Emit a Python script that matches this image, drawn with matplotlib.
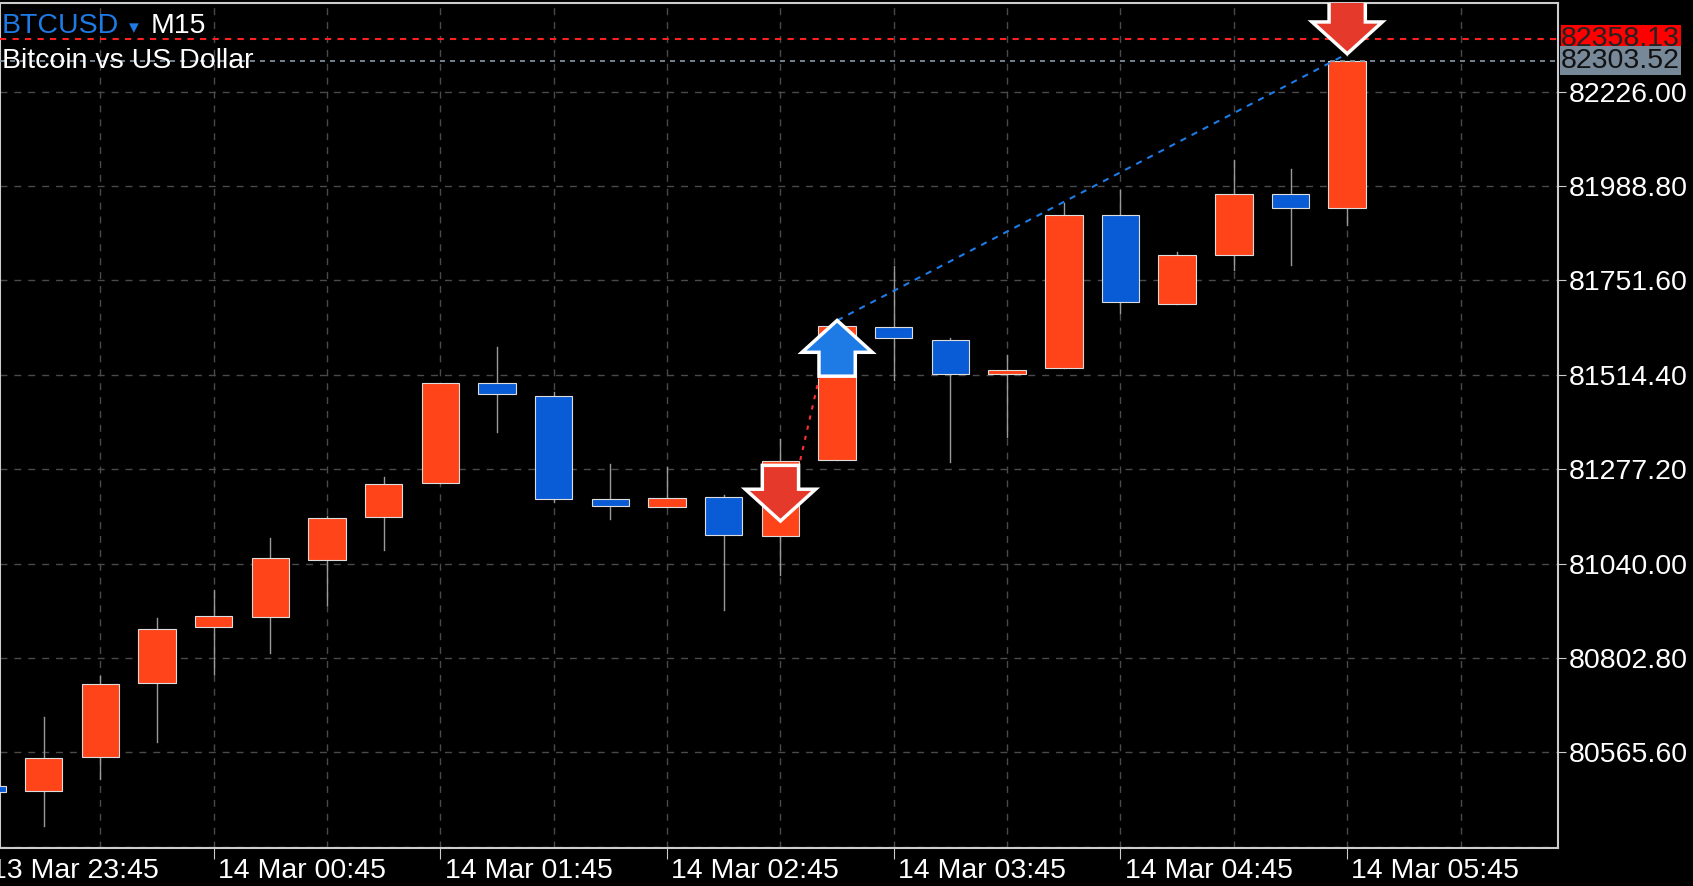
import matplotlib
matplotlib.use("Agg")
import matplotlib.pyplot as plt
from matplotlib.patches import Polygon, Rectangle

opens  = [80482, 80469.3, 80553.3, 80740.4, 80881.3, 80905.7, 81049.4, 81157.9, 81241.9, 81494, 81461.5, 81201.2, 81182.3, 81206.7, 81109.1, 81301.5, 81635, 81602.5, 81515.7, 81532, 81916.9, 81691.9, 81816.6, 81968.5, 81933.2]
highs  = [80490, 80653.6, 80756.6, 80903, 80973.5, 81103.6, 81160.6, 81258.2, 81494, 81583.5, 81472.3, 81290.7, 81282.6, 81212.1, 81353, 81643.1, 81786.8, 81607.9, 81564.5, 81946.8, 81979.3, 81822.1, 82055.2, 82030.8, 82303.52]
lows   = [80455, 80379.8, 80499.1, 80591.3, 80762.1, 80816.3, 80935.6, 81073.8, 81241.9, 81372, 81195.8, 81152.4, 81182.3, 80924.7, 81011.5, 81301.5, 81502.2, 81296.1, 81358.5, 81532, 81670.2, 81691.9, 81778.7, 81789.5, 81889.8]
closes = [80467, 80550.6, 80737.7, 80875.9, 80908.5, 81054.8, 81155.2, 81239.2, 81494, 81466.9, 81201.2, 81185, 81204, 81111.8, 81298.8, 81637.7, 81607.9, 81515.7, 81526.6, 81916.9, 81697.4, 81816.6, 81968.5, 81933.2, 82303.52]
time_labels = ["13 Mar 23:45", "14 Mar 00:45", "14 Mar 01:45", "14 Mar 02:45", "14 Mar 03:45", "14 Mar 04:45", "14 Mar 05:45"]
label_idx = [0, 4, 8, 12, 16, 20, 24]
price_ticks = [82226.00, 81988.80, 81751.60, 81514.40, 81277.20, 81040.00, 80802.80, 80565.60]
ask_price = 82358.13
bid_price = 82303.52
# trades: (candle index, tip price, direction)
arrows = [(14, 81147, "down"), (15, 81651, "up"), (24, 82321, "down")]
red_path = ([14.35, 14.8], [81300, 81580])
blue_path = ([15, 24], [81651, 82321])

UP = "#FF4419"; DN = "#0A5BD6"
FONT = "Liberation Sans"
FS = 20.5
W, H = 1693, 886
fig = plt.figure(figsize=(W/100, H/100), dpi=100, facecolor="black")
ax = fig.add_axes([0.0, 1-786/821, 1443/1568, (786-3)/821])
ax.set_facecolor("black")

for i in range(0, 28, 2):
    ax.axvline(i, color="#4a4a4a", lw=1, ls=(0, (5, 5)), zorder=0)
for p in price_ticks + [80328.4]:
    ax.axhline(p, color="#4a4a4a", lw=1, ls=(0, (5, 5)), zorder=0)

bw = 0.66
for i, (o, h, l, c) in enumerate(zip(opens, highs, lows, closes)):
    col = UP if c >= o else DN
    ax.plot([i, i], [l, h], color="#9a9a9a", lw=1, zorder=2)
    lo, hi = min(o, c), max(o, c)
    ax.add_patch(Rectangle((i-bw/2, lo), bw, max(hi-lo, 8), facecolor=col,
                           edgecolor="#dddddd", lw=0.8, zorder=3))

ax.axhline(ask_price, color="#ff2020", lw=1.5, ls=(0, (3, 3)), zorder=4)
ax.axhline(bid_price, color="#8899aa", lw=1.2, ls=(0, (3, 3)), zorder=4)
ax.plot(*red_path, color="#ff3030", lw=1.5, ls=(0, (2, 3)), zorder=4)
ax.plot(*blue_path, color="#1E7BE6", lw=1.5, ls=(0, (3, 3)), zorder=4)

for i, tip, d in arrows:
    hw, sw, hh, tot = 0.62, 0.32, 80, 140
    s = 1 if d == "down" else -1
    pts = [(i, tip), (i-hw, tip+s*hh), (i-sw, tip+s*hh), (i-sw, tip+s*tot),
           (i+sw, tip+s*tot), (i+sw, tip+s*hh), (i+hw, tip+s*hh)]
    ax.add_patch(Polygon(pts, closed=True, facecolor="#E53A2B" if d == "down" else "#1E7BE6",
                         edgecolor="white", lw=2.5, zorder=6, clip_on=True))

for s in ax.spines.values():
    s.set_color("#cccccc"); s.set_linewidth(1.5)
ax.yaxis.tick_right()
ax.set_yticks(price_ticks)
ax.set_yticklabels([f"{p:.2f}" for p in price_ticks], fontsize=FS, color="white", family=FONT)
ax.tick_params(axis="y", length=6, color="#cccccc", pad=2)
ax.set_xticks(label_idx)
ax.set_xticklabels([])
ax.tick_params(axis="x", length=8, color="#cccccc")
ax.set_xlim(0.23, 27.72)
ax.set_ylim(80325, 82448)
for i, t in zip(label_idx, time_labels):
    ax.annotate(t, (i, 0), xycoords=("data", "axes fraction"), xytext=(3, -7),
                textcoords="offset points", ha="left", va="top", fontsize=FS,
                color="white", family=FONT, annotation_clip=False)

trans = ax.get_yaxis_transform()
ax.text(1.002, ask_price, f"{ask_price:.2f}", transform=trans, va="center", ha="left",
        fontsize=FS, color="#222222", family=FONT, clip_on=False,
        bbox=dict(boxstyle="square,pad=0.02", fc="#ff0000", ec="none"))
ax.text(1.002, bid_price, f"{bid_price:.2f}", transform=trans, va="center", ha="left",
        fontsize=FS, color="#111111", family=FONT, clip_on=False,
        bbox=dict(boxstyle="square,pad=0.05", fc="#778899", ec="none"))

fig.text(0.001, 0.971, "BTCUSD", color="#1E7BE6", fontsize=FS, family=FONT, va="center")
fig.text(0.076, 0.969, "▾", color="#1E7BE6", fontsize=14, family="DejaVu Sans", va="center")
fig.text(0.089, 0.971, "M15", color="white", fontsize=FS, family=FONT, va="center")
fig.text(0.001, 0.931, "Bitcoin vs US Dollar", color="white", fontsize=FS, family=FONT, va="center")

fig.savefig("out.png", dpi=100, facecolor="black")
